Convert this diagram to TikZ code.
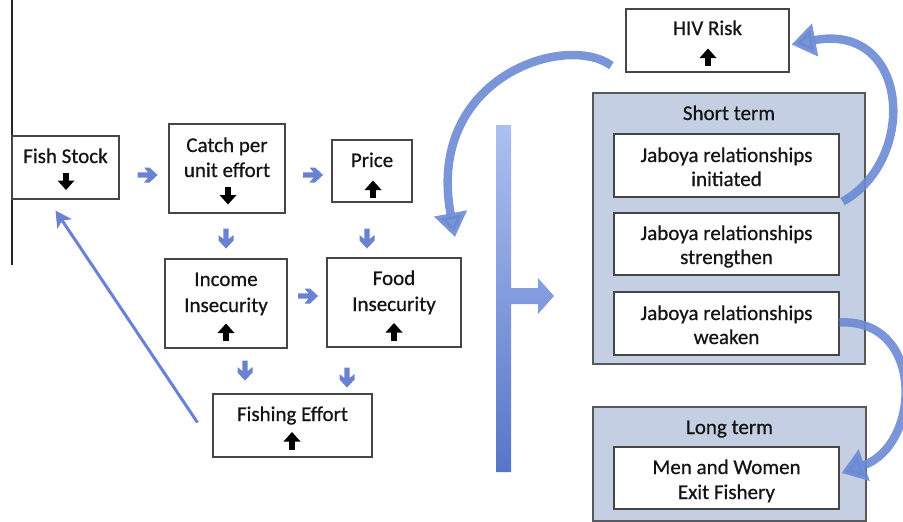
\documentclass[tikz,border=0pt]{standalone}
\usepackage{fontspec}
\setmainfont{Carlito}[FakeBold=0.6]
\usetikzlibrary{calc,arrows.meta}
\definecolor{boxline}{RGB}{70,70,70}
\definecolor{panelfill}{RGB}{197,207,228}
\definecolor{sblue}{RGB}{105,130,210}
\definecolor{cblue}{RGB}{108,138,212}
\definecolor{bartop}{RGB}{172,192,240}
\definecolor{barbot}{RGB}{88,118,200}
\definecolor{txtc}{RGB}{20,20,20}
\tikzset{
  box/.style={draw=boxline, line width=1.1pt, fill=white, inner sep=0pt},
  panel/.style={draw=boxline!90, line width=1.2pt, fill=panelfill, inner sep=0pt},
  txt/.style={font=\fontsize{21}{25}\selectfont, anchor=base, inner sep=0pt, text=txtc},
  carr/.style={draw=cblue, line width=8.5pt, opacity=0.9, -{Triangle[width=32pt,length=24pt]}},
  longarr/.style={draw=sblue, line width=3pt, -{Stealth[width=17pt,length=16pt,inset=4pt]}},
  downarr/.pic={\fill[black] (-8.5,-0.5) -- (8.5,-0.5) -- (0,9) -- cycle;
                \fill[black] (-2.8,-8.5) rectangle (2.8,0.5);},
  uparr/.pic={\fill[black] (-8.5,0.5) -- (8.5,0.5) -- (0,-9) -- cycle;
              \fill[black] (-2.8,8.5) rectangle (2.8,-0.5);},
  barr/.pic={\fill[sblue] (-10,-2.6) -- (0.5,-2.6) -- (-3.5,-7.5) -- (2,-7.5) -- (10,0)
              -- (2,7.5) -- (-3.5,7.5) -- (0.5,2.6) -- (-10,2.6) -- cycle;}
}
\begin{document}
\begin{tikzpicture}[x=1pt,y=-1pt]
\useasboundingbox (0,0) rectangle (903,522);

% left thin line
\coordinate (ltop) at (12,0);
\coordinate (lbot) at (12,265);
\draw[black!85, line width=1.2pt] (ltop) -- (lbot);

% left boxes
\node[box, minimum width=107pt, minimum height=63pt] (fs) at (65.5,167.5) {};
\node[txt] (fst) at (65.5,163) {Fish Stock};
\pic at (66,181) {downarr};

\node[box, minimum width=116pt, minimum height=89pt] (cpue) at (227,168.5) {};
\node[txt] (cpue1) at (227,152) {Catch per};
\node[txt] (cpue2) at (227,177) {unit effort};
\pic at (228,195.5) {downarr};

\node[box, minimum width=80pt, minimum height=62pt] (price) at (372,171) {};
\node[txt] (pricet) at (372,167) {Price};
\pic at (373,189.5) {uparr};

\node[box, minimum width=122pt, minimum height=89pt] (inc) at (226,303.5) {};
\node[txt] (inc1) at (226,286) {Income};
\node[txt] (inc2) at (226,312) {Insecurity};
\pic at (226,332.5) {uparr};

\node[box, minimum width=134pt, minimum height=89pt] (food) at (394,302.5) {};
\node[txt] (food1) at (394,285) {Food};
\node[txt] (food2) at (394,311) {Insecurity};
\pic at (394,332) {uparr};

\node[box, minimum width=159pt, minimum height=63pt] (fe) at (292.5,425.5) {};
\node[txt] (fet) at (292.5,421) {Fishing Effort};
\pic at (292,441) {uparr};

% small blue arrows
\pic at ($(fs.east)+(28,7.5)$) {barr};
\pic at ($(cpue.east)+(27.5,6.5)$) {barr};
\pic[rotate=-90] at ($(cpue.south)+(-1,25)$) {barr};
\pic[rotate=-90] at ($(price.south)+(-5,36)$) {barr};
\pic at ($(inc.east)+(20.5,-7.5)$) {barr};
\pic[rotate=-90] at ($(inc.south)+(19,22)$) {barr};
\pic[rotate=-90] at ($(food.south)+(-47,30)$) {barr};

% long feedback arrow
\draw[longarr] ($(fe.west)+(-15,-3)$) -- ($(fs.south)+(-10,11)$);

% big vertical bar with branch arrow
\shade[top color=bartop, bottom color=barbot]
  (496,125) -- (511,125) -- (511,288) -- (538,288) -- (538,278) -- (554,296)
  -- (538,314) -- (538,304) -- (511,304) -- (511,472) -- (496,472) -- cycle;

% right side
\node[box, minimum width=163pt, minimum height=63pt] (hiv) at (707.5,40.5) {};
\node[txt] (hivt) at (707.5,35) {HIV Risk};
\pic at (708,57.5) {uparr};

\node[panel, minimum width=272pt, minimum height=271pt] (st) at (729,228.5) {};
\node[txt] (stt) at (729,120) {Short term};
\node[box, minimum width=225pt, minimum height=63pt] (j1) at (726.5,165.5) {};
\node[txt] (j1a) at (726.5,162) {Jaboya relationships};
\node[txt] (j1b) at (726.5,186) {initiated};
\node[box, minimum width=225pt, minimum height=62pt] (j2) at (726.5,244) {};
\node[txt] (j2a) at (726.5,240) {Jaboya relationships};
\node[txt] (j2b) at (726.5,264) {strengthen};
\node[box, minimum width=225pt, minimum height=63pt] (j3) at (726.5,323.5) {};
\node[txt] (j3a) at (726.5,320) {Jaboya relationships};
\node[txt] (j3b) at (726.5,344) {weaken};

\node[panel, minimum width=273pt, minimum height=114pt] (lt) at (729.5,464) {};
\node[txt] (ltt) at (729.5,434) {Long term};
\node[box, minimum width=225pt, minimum height=62pt] (mw) at (726.5,478) {};
\node[txt] (mw1) at (726.5,474) {Men and Women};
\node[txt] (mw2) at (726.5,499) {Exit Fishery};

% curved arrows
\coordinate (aend) at (455,237);
\draw[carr] ($(hiv.south west)+(-14,-7)$) .. controls (565,32) and (425,78) .. (aend);
\draw[carr] ($(j1.south east)+(3,4)$) .. controls (918,160) and (910,22) .. ($(hiv.east)+(2,4)$);
\draw[carr] ($(j3.east)+(0,-1)$) .. controls (925,318) and (922,445) .. ($(mw.east)+(2,-5)$);
\end{tikzpicture}
\end{document}
